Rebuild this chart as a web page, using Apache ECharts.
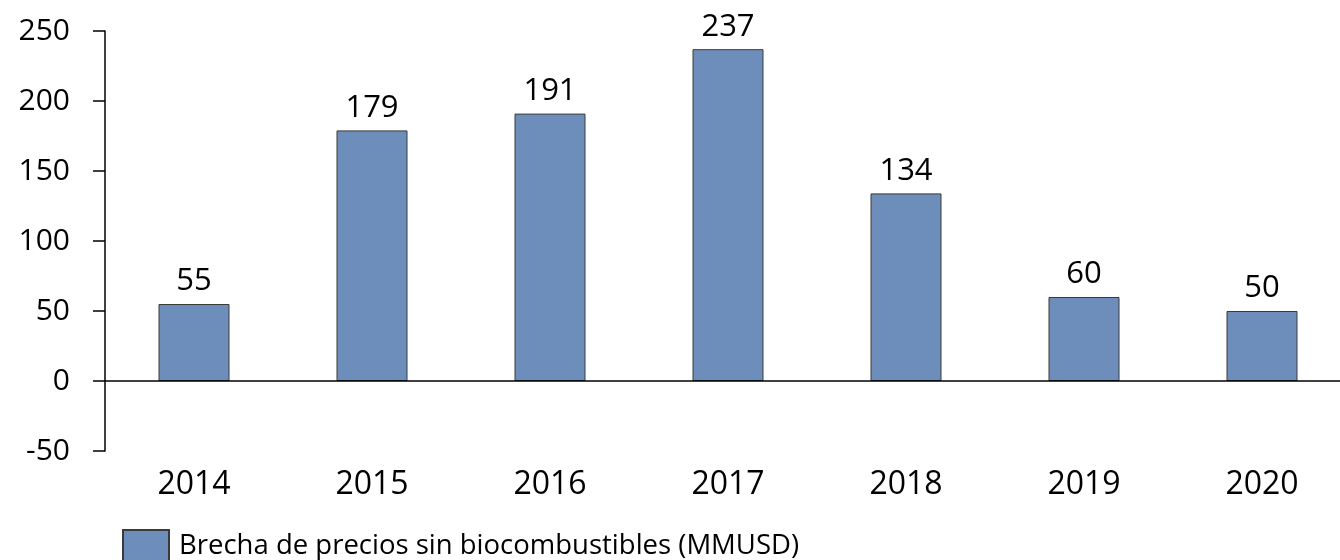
<!DOCTYPE html>
<html>
<head>
<meta charset="utf-8">
<script src="https://cdn.jsdelivr.net/npm/echarts@6/dist/echarts.min.js"></script>
<style>
  html, body { margin: 0; padding: 0; background: #fff; overflow: hidden; }
  #chart { width: 1351px; height: 560px; }
</style>
</head>
<body>
<div id="chart"></div>
<script>
var years = ['2014', '2015', '2016', '2017', '2018', '2019', '2020'];
var brecha = [55, 179, 191, 237, 134, 60, 50];
var seriesName = 'Brecha de precios sin biocombustibles (MMUSD)';

var myChart = echarts.init(document.getElementById('chart'));
var font = '"Open Sans", sans-serif';

var option = {
  animation: false,
  textStyle: { fontFamily: font },
  grid: {
    left: 105,
    top: 31,
    bottom: 109,
    right: 0
  },
  legend: {
    data: [seriesName],
    left: 122,
    top: 529,
    padding: 0,
    icon: 'rect',
    itemWidth: 46,
    itemHeight: 32,
    itemGap: 10,
    textStyle: { fontSize: 27.5, color: '#000', fontFamily: font, padding: [0, 0, 0, 5] }
  },
  xAxis: {
    type: 'category',
    data: years,
    axisLine: { show: false },
    axisTick: { show: false },
    axisLabel: { fontSize: 32, color: '#000', margin: 18, fontFamily: font }
  },
  yAxis: {
    type: 'value',
    min: -50,
    max: 250,
    interval: 50,
    axisLine: { show: true, lineStyle: { color: '#000', width: 1.5 } },
    axisTick: { show: true, length: 12, lineStyle: { color: '#000', width: 1.5 } },
    splitLine: { show: false },
    axisLabel: { fontSize: 30, color: '#000', margin: 35, fontFamily: font }
  },
  series: [{
    name: seriesName,
    type: 'bar',
    data: brecha,
    barWidth: 71,
    itemStyle: { color: '#6d8dbb', borderColor: '#3a3a3a', borderWidth: 1 },
    label: {
      show: true,
      position: 'top',
      distance: 7,
      fontSize: 31,
      color: '#000',
      fontFamily: font
    },
    markLine: {
      silent: true,
      symbol: 'none',
      label: { show: false },
      lineStyle: { color: '#000', width: 1.5, type: 'solid' },
      data: [{ yAxis: 0 }]
    }
  }]
};

myChart.setOption(option);
</script>
</body>
</html>
